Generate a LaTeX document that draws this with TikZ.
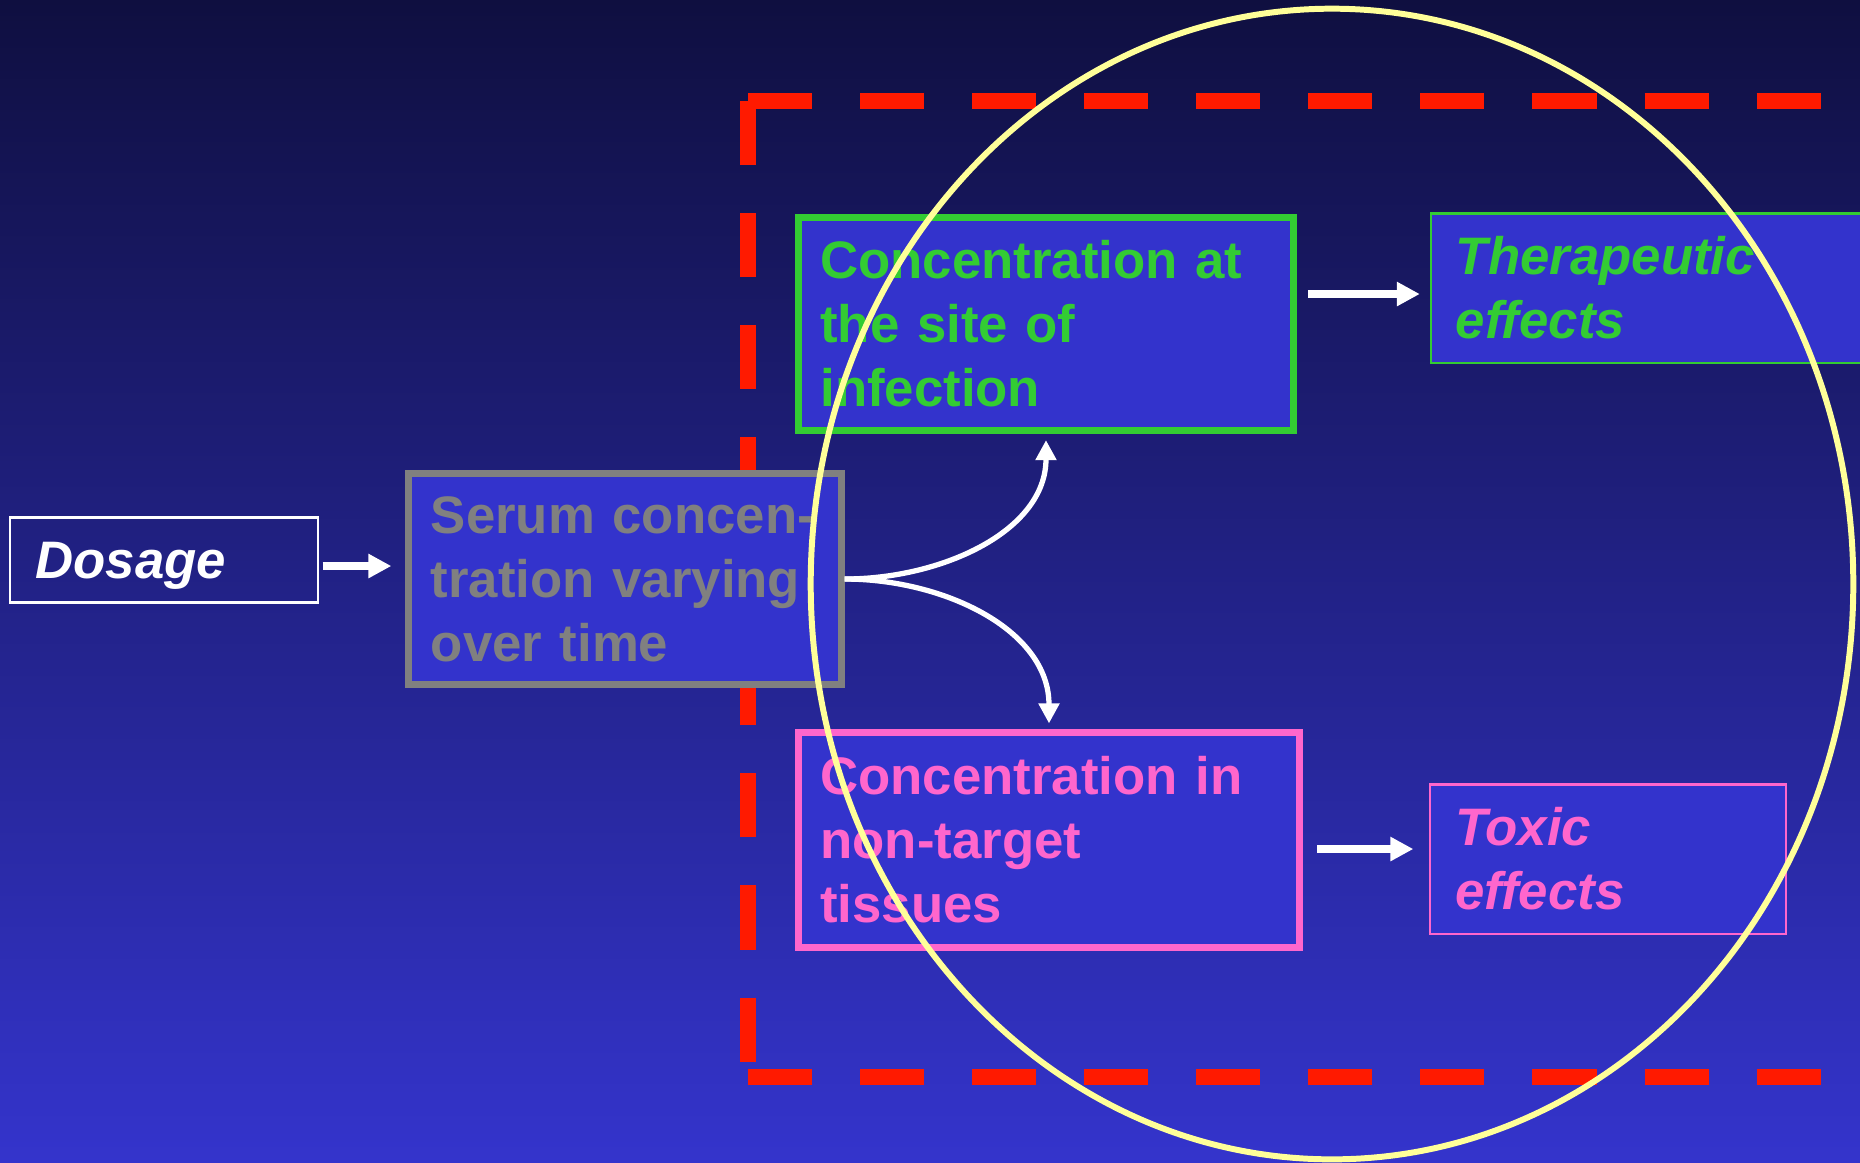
\documentclass[tikz,border=0pt]{standalone}
\usepackage{fontspec}
\setmainfont{Liberation Sans}
\usetikzlibrary{positioning}
\usetikzlibrary{arrows.meta}
\definecolor{bgtop}{HTML}{0F0F40}
\definecolor{bgbot}{HTML}{3434CC}
\definecolor{boxfill}{HTML}{3333CC}
\definecolor{sitegreen}{HTML}{33CC33}
\definecolor{toxpink}{HTML}{FF66CC}
\definecolor{serumgray}{HTML}{808080}
\definecolor{framered}{HTML}{FF1A00}
\definecolor{ringyellow}{HTML}{FFFF99}
\tikzset{txt/.style={font=\fontsize{15}{18.2}\selectfont\bfseries,align=left}}
\tikzset{concbox/.style={txt,draw,line width=2pt,fill=boxfill,inner xsep=0.22cm,inner ysep=0pt}}
\tikzset{effbox/.style={draw,line width=0.6pt,fill=boxfill,align=left,
  font=\fontsize{15}{18.2}\selectfont\bfseries\itshape,inner xsep=0.25cm,inner ysep=0pt}}
\tikzset{wharr/.style={white,line width=2.1pt,-{Triangle[length=0.23cm,width=0.23cm]}}}
\tikzset{curarr/.style={white,line width=1.5pt,-{Triangle[length=0.2cm,width=0.2cm]}}}
\tikzset{framedash/.style={framered,line width=4.5pt,dash pattern=on 0.64cm off 0.48cm}}

\begin{document}
\begin{tikzpicture}[x=0.01cm,y=-0.01cm]
\shade[top color=bgtop,bottom color=bgbot] (0,0) rectangle (1860,1162);
\useasboundingbox (0,0) rectangle (1860,1162);
\clip (0,0) rectangle (1860,1162);

% dashed frame round the target part
\coordinate (frameNW) at (748,101);
\coordinate (frameSW) at (748,1077);
\coordinate (frameNE) at (1900,101);
\coordinate (frameSE) at (1900,1077);
\draw[framedash] (frameNW) -- (frameNE);
\draw[framedash] (frameNW) -- (frameSW);
\draw[framedash] (frameSW) -- (frameSE);

\node[effbox,draw=white,fill=none,text=white,text width=2.57cm,text depth=0pt,minimum height=0.85cm]
  (dosage) at (164,560) {Dosage};
\node[concbox,draw=serumgray,text=serumgray,text width=3.88cm,minimum height=2.11cm]
  (serum) at (625,579) {Serum concen-\\tration varying\\over time};
\node[concbox,draw=sitegreen,text=sitegreen,text width=4.51cm,minimum height=2.13cm]
  (site) at (1046,324) {Concentration at\\the site of\\infection};
\node[concbox,draw=toxpink,text=toxpink,text width=4.57cm,minimum height=2.14cm]
  (tissue) at (1049,840) {Concentration in\\non-target\\tissues};
\node[effbox,draw=sitegreen,text=sitegreen,text width=4.18cm,minimum height=1.49cm]
  (thera) at (1665,288) {Therapeutic\\effects};
\node[effbox,draw=toxpink,text=toxpink,text width=3.05cm,minimum height=1.49cm]
  (toxic) at (1608,859) {Toxic\\effects};

\draw[wharr,shorten <=0.04cm,shorten >=0.14cm] ([yshift=-0.06cm]dosage.east) -- ([yshift=-0.06cm]dosage.east -| serum.west);
\draw[wharr,shorten <=0.11cm,shorten >=0.1cm] ([yshift=-0.06cm]site.east |- thera.west) -- ([yshift=-0.06cm]thera.west);
\draw[wharr,shorten <=0.14cm,shorten >=0.16cm] ([yshift=-0.09cm]tissue.east) -- ([yshift=-0.09cm]tissue.east -| toxic.west);
\draw[curarr,shorten >=0.06cm] (serum.east) to[out=0,in=-90] (site.south);
\draw[curarr,shorten >=0.06cm] (serum.east) to[out=0,in=90] (tissue.north);

\draw[ringyellow,line width=1.7pt] (1332,584) ellipse [x radius=5.21cm,y radius=5.75cm];
\end{tikzpicture}
\end{document}
